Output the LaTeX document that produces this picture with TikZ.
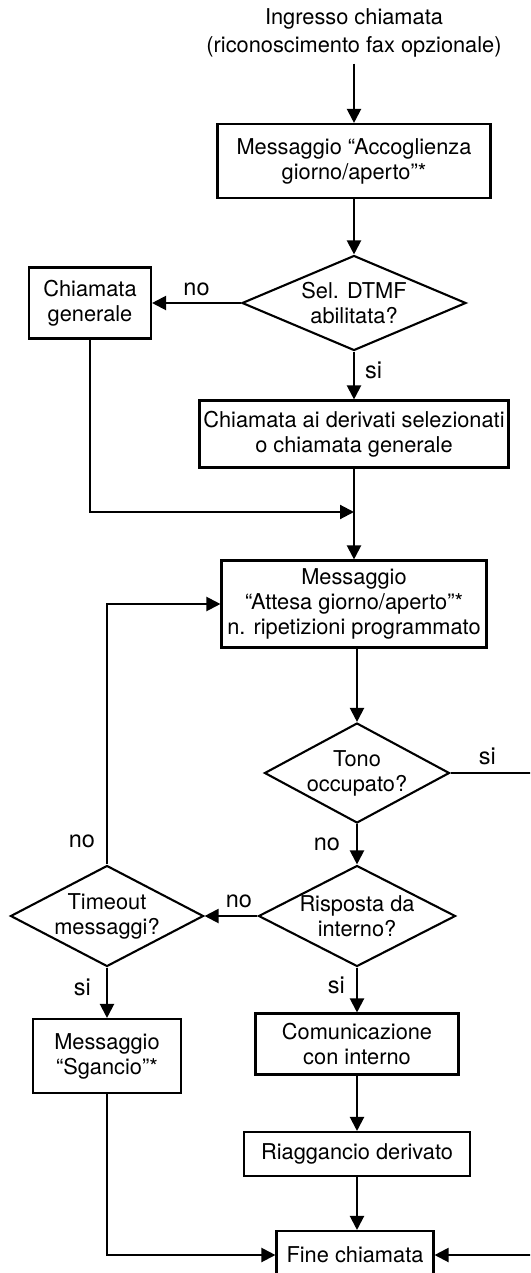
\documentclass[tikz,border=0pt]{standalone}
\usepackage{fontspec}
\setmainfont{TeX Gyre Heros}
\usetikzlibrary{shapes.geometric, arrows.meta}

\begin{document}
\begin{tikzpicture}[
    x=1pt, y=-1pt,
    font=\fontsize{21.8}{25}\selectfont,
    block/.style={rectangle, draw, line width=2.1pt, align=center, inner sep=0pt},
    decision/.style={diamond, draw, line width=2.1pt, align=center, inner sep=-5pt, aspect=2},
    answer/.style={inner sep=4pt, font=\fontsize{23.5}{26}\selectfont},
    arrow/.style={-{Triangle[length=14pt, width=14pt]}, line width=2.1pt}
]
\useasboundingbox (0,0) rectangle (530,1273);
\clip (0,0) rectangle (530,1273);
\node[align=center, inner sep=6pt, font=\fontsize{21.8}{28}\selectfont] (start) at (354,33) {Ingresso chiamata\\(riconoscimento fax opzionale)};
\node[block, minimum width=273pt, minimum height=74pt] (accog) at (354,161) {Messaggio “Accoglienza\\giorno/aperto”*};
\node[decision, aspect=2.3, minimum width=224pt, minimum height=95pt] (dtmf) at (354,303) {Sel. DTMF\\abilitata?};
\node[block, minimum width=122pt, minimum height=71pt] (generale) at (90,303) {Chiamata\\generale};
\node[block, minimum width=309pt, minimum height=67pt] (derivati) at (354,434) {Chiamata ai derivati selezionati\\o chiamata generale};
\node[block, minimum width=265pt, minimum height=87pt] (attesa) at (354,604) {Messaggio\\“Attesa giorno/aperto”*\\n. ripetizioni programmato};
\node[decision, aspect=1.85, minimum width=185pt, minimum height=100pt] (tono) at (357,773) {Tono\\occupato?};
\node[decision, aspect=1.95, minimum width=197pt, minimum height=101pt] (risposta) at (357,916) {Risposta da\\interno?};
\node[decision, minimum width=193pt, minimum height=101pt] (timeout) at (107,916) {Timeout\\messaggi?};
\node[block, minimum width=148pt, minimum height=74pt] (sgancio) at (107,1056) {Messaggio\\“Sgancio”*};
\node[block, minimum width=203pt, minimum height=61pt] (comunic) at (357,1044) {Comunicazione\\con interno};
\node[block, minimum width=226pt, minimum height=44pt] (riagg) at (357,1154) {Riaggancio derivato};
\node[block, minimum width=157pt, minimum height=48pt] (fine) at (355,1255) {Fine chiamata};
\coordinate (join) at (354,512);
\coordinate (corner) at (545,773);
\draw[arrow] (start) -- (accog);
\draw[arrow] (accog) -- (dtmf);
\draw[arrow] (dtmf) -- node[answer, above=2pt] {no} (generale);
\draw[arrow] (dtmf) -- node[answer, pos=0.4, right=6pt] {si} (derivati);
\draw[arrow] (generale) |- (join);
\draw[arrow] (derivati) -- (attesa);
\draw[arrow] (attesa.south -| tono.north) -- (tono);
\draw[arrow] (tono) -- node[answer, left=12pt] {no} (risposta);
\draw[arrow] (tono) -- node[answer, pos=0.39, above=3pt] {si} (corner) |- (fine);
\draw[arrow] (risposta) -- node[answer, pos=0.35, above=3pt] {no} (timeout);
\draw[arrow] (risposta) -- node[answer, pos=0.4, left=7pt] {si} (comunic);
\draw[arrow] (timeout) -- node[answer, pos=0.4, left=11pt] {si} (sgancio);
\draw[arrow] (timeout) |- node[answer, pos=0.045, left=7pt] {no} (attesa);
\draw[arrow] (comunic) -- (riagg);
\draw[arrow] (riagg.south) -- (riagg.south |- fine.north);
\draw[arrow] (sgancio) |- (fine);
\end{tikzpicture}
\end{document}
